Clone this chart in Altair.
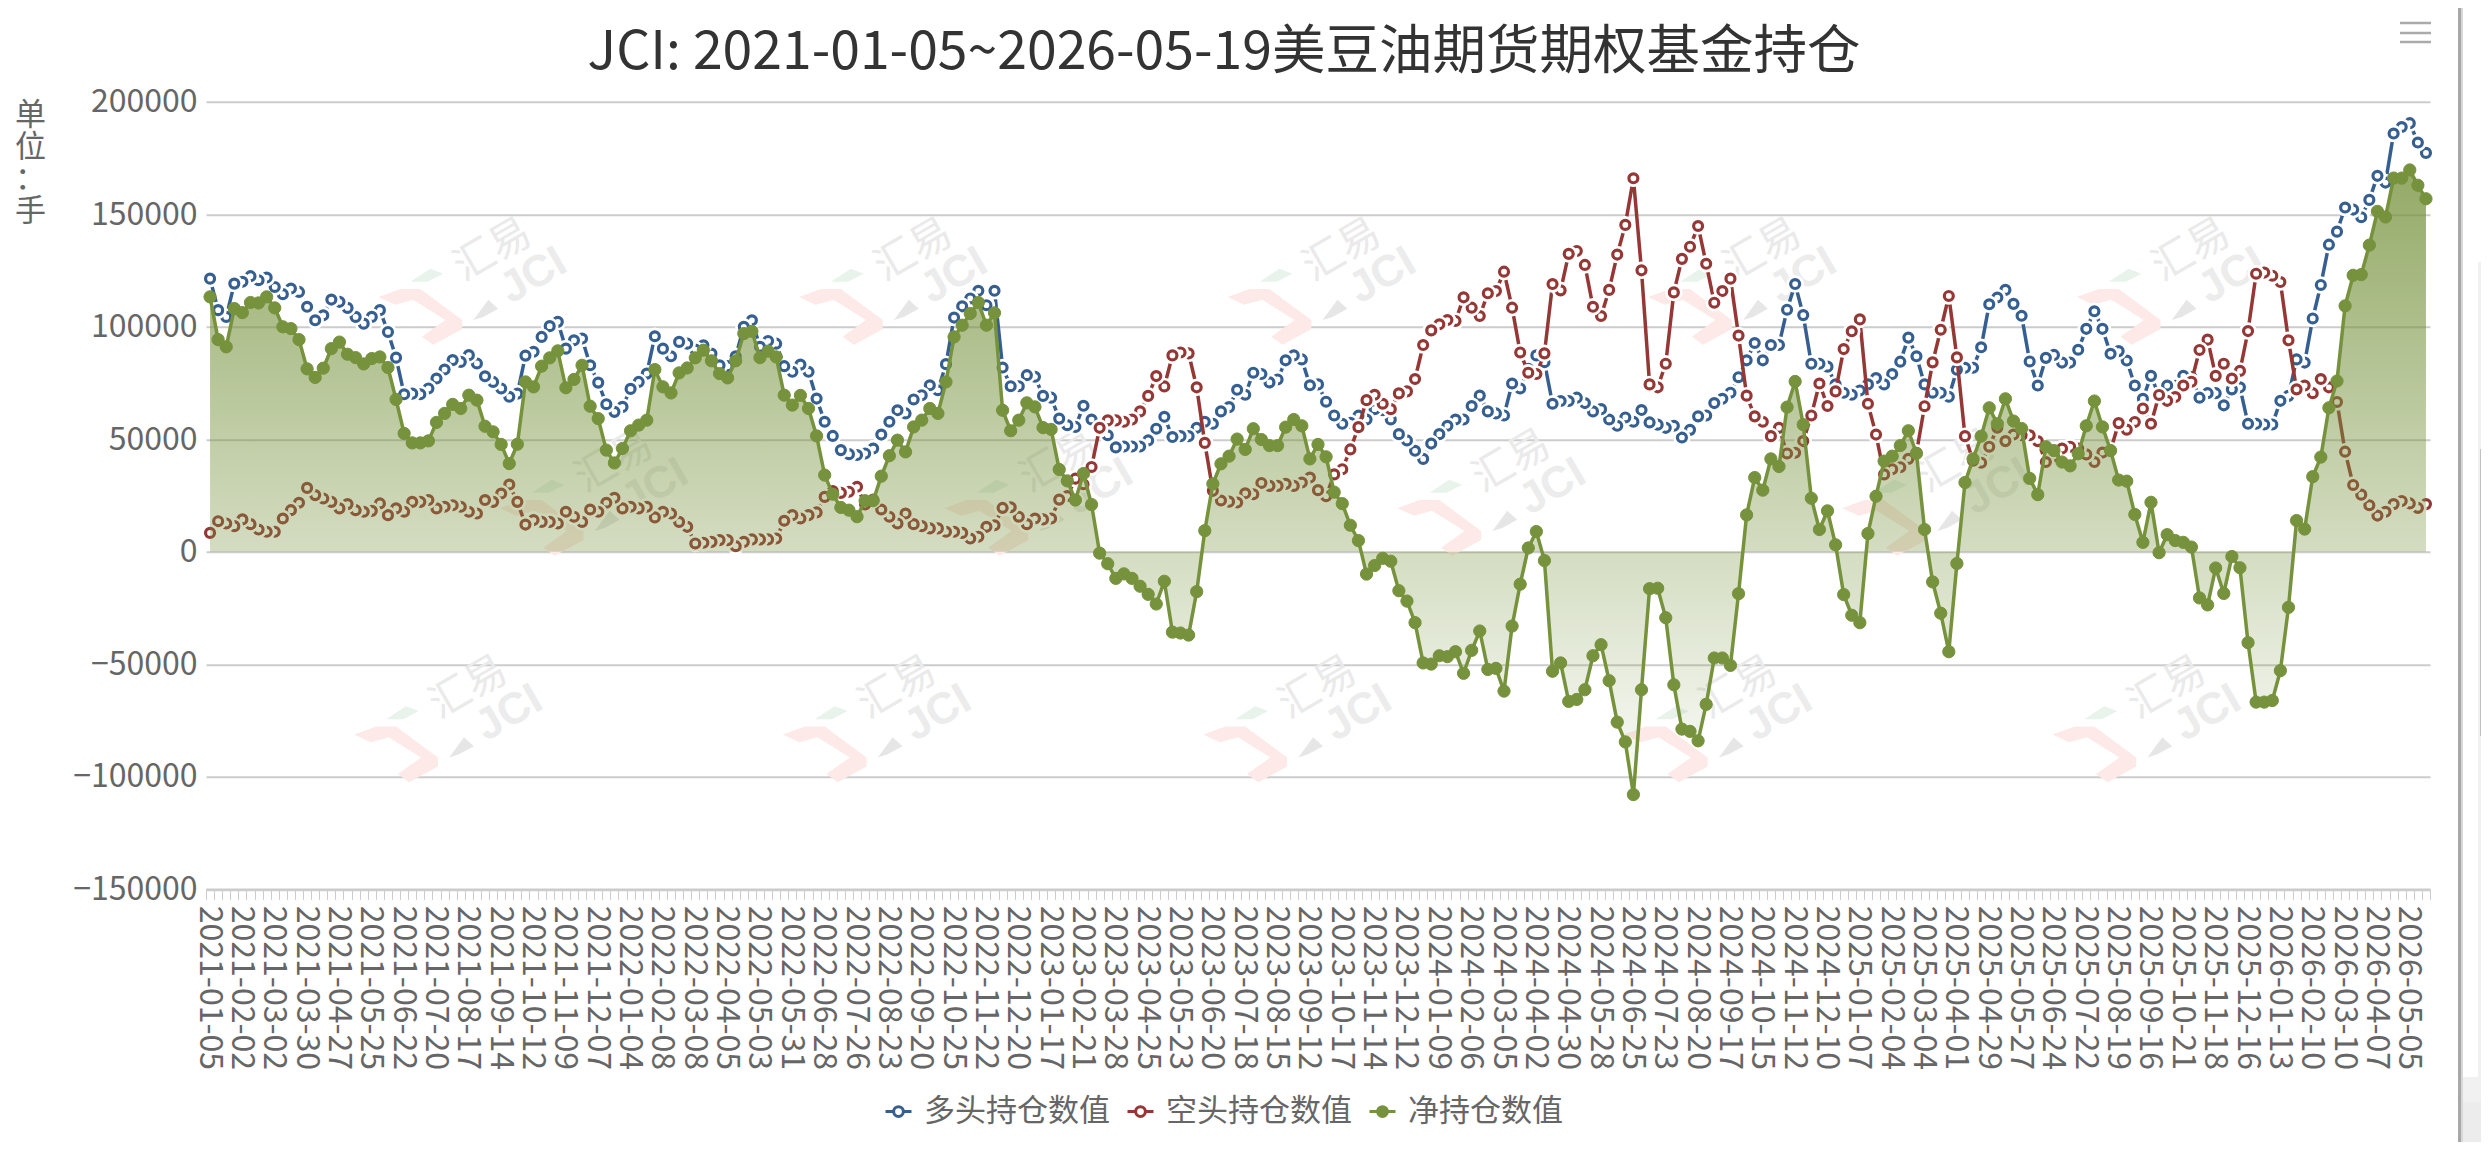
import json
import datetime as dt
import altair as alt
import pandas as pd

TITLE = "JCI: 2021-01-05~2026-05-19美豆油期货期权基金持仓"
LONG_NAME, SHORT_NAME, NET_NAME = "多头持仓数值", "空头持仓数值", "净持仓数值"
UNIT = ["单", "位", "：", "手"]

TICK_LABELS = [
 "2021-01-05","2021-02-02","2021-03-02","2021-03-30","2021-04-27","2021-05-25","2021-06-22","2021-07-20",
 "2021-08-17","2021-09-14","2021-10-12","2021-11-09","2021-12-07","2022-01-04","2022-02-08","2022-03-08",
 "2022-04-05","2022-05-03","2022-05-31","2022-06-28","2022-07-26","2022-08-23","2022-09-20","2022-10-25",
 "2022-11-22","2022-12-20","2023-01-17","2023-02-21","2023-03-28","2023-04-25","2023-05-23","2023-06-20",
 "2023-07-18","2023-08-15","2023-09-12","2023-10-17","2023-11-14","2023-12-12","2024-01-09","2024-02-06",
 "2024-03-05","2024-04-02","2024-04-30","2024-05-28","2024-06-25","2024-07-23","2024-08-20","2024-09-17",
 "2024-10-15","2024-11-12","2024-12-10","2025-01-07","2025-02-04","2025-03-04","2025-04-01","2025-04-29",
 "2025-05-27","2025-06-24","2025-07-22","2025-08-19","2025-09-16","2025-10-21","2025-11-18","2025-12-16",
 "2026-01-13","2026-02-10","2026-03-10","2026-04-07","2026-05-05"]

NET = [
 113300,94300,91100,108100,106300,110800,110600,113300,108400,100000,
 99200,94300,81300,77500,81600,90300,93200,87800,86300,83500,
 85900,86600,81900,67700,52600,48400,48400,49300,57500,61500,
 65500,63700,69600,67400,55800,53300,47700,39200,47800,75500,
 73300,82500,86200,89300,72900,76600,82900,64700,59200,45200,
 39500,45900,53800,56300,58500,
 81000,73300,70600,79500,81700,86200,89600,84900,79200,77300,
 84900,97000,98000,86300,89200,86600,69600,65200,69500,63700,
 51500,34100,25600,19700,18500,15600,22700,22700,33600,42700,
 49600,44400,55500,58500,63700,61500,75500,95500,100700,105900,
 110800,100700,106200,62900,53800,58500,66200,64400,55200,54400,
 36600,31500,23000,34800,21000,
 -600,-5300,-11800,-9800,-11800,-15300,-18900,-23200,-13100,-35700,
 -36100,-37000,-17700,9400,30200,39100,42500,50100,45500,54700,
 49900,47200,47200,55400,58800,56000,41300,47700,42200,26500,
 21400,11800,5000,-9900,-6100,-2900,-4200,-17300,-21900,-31500,
 -49400,-49900,-46200,-46600,-44400,-54000,-43800,-35200,-52300,-51800,
 -61900,-33000,-14400,1700,9000,
 -3900,-53100,-49400,-66500,-65600,-61300,-46200,-41300,-57300,-75700,
 -84500,-107900,-61300,-16400,-16200,-29300,-59100,-78800,-79800,-84000,
 -67800,-47200,-47200,-50500,-18600,16400,33000,27400,41300,37900,
 64300,75700,56500,23800,9900,18200,3100,-19000,-28200,-31500,
 8100,24700,40300,42500,47200,53800,43700,9900,-13400,-27300,
 -44400,-5200,30800,41300,51400,
 64000,56900,68000,58100,54800,32600,25400,46700,45000,39900,
 38200,43600,56000,67000,55500,45000,31900,31400,16600,4200,
 22000,-400,7600,5000,4200,2100,-20500,-23600,-7200,-18500,
 -2100,-7100,-40400,-66800,-66800,-66100,-52800,-24700,13900,10100,
 33400,42100,64000,75900,109300,122900,123200,136300,151300,148800,
 166100,166100,169700,162900,156900]

LONG = [
 121400,107400,104400,119200,120000,122500,120700,121900,117700,114500,
 117000,115500,108900,102900,105100,112100,111100,108400,104400,101400,
 104400,107400,97700,86300,70000,70300,70000,72600,77000,81000,
 85200,84400,87400,83700,78000,75500,72600,68900,70300,87200,
 88900,95500,100300,102200,90300,94000,94800,82900,75200,65600,
 62200,64400,72400,75500,79200,
 95800,90300,86900,93300,92500,89900,91800,88100,82900,82500,
 86900,100000,102900,91100,93700,92500,82500,80000,83200,80000,
 68100,57800,51500,45200,43400,43000,43700,45900,52100,57800,
 62900,61500,67700,69600,74000,71800,83400,104100,109100,112600,
 116000,109600,116000,81900,73600,73600,78500,77800,69300,68500,
 59200,56300,55500,64900,58800,
 54500,51800,46400,46800,46800,46800,49500,54700,60000,51000,
 51400,51400,55100,57800,56900,62400,64300,72000,69800,79600,
 79000,75300,76600,85100,87300,85500,74000,74400,66700,60600,
 56900,57300,60500,58800,63400,62900,58800,52300,49500,44900,
 41300,48100,52300,56000,58800,58800,64800,69400,62400,61500,
 60600,74800,72600,81300,87300,
 84300,65800,67000,67000,68500,66100,62400,63400,58800,56000,
 59700,57800,63000,57500,56500,55100,56000,50800,54200,60200,
 60600,66100,68000,70700,77600,85100,92800,85100,91900,91900,
 107600,119000,105200,83600,83600,82300,74400,70700,69800,71700,
 74400,77200,74400,79000,84500,95200,86900,74400,70700,70700,
 68900,80900,81800,81800,90900,
 110000,113000,116400,110200,104900,84600,73900,86200,87500,84100,
 84100,89800,99100,106900,99100,88000,89200,85000,73900,68000,
 78200,69300,73900,73800,78200,77700,68500,70500,70500,65100,
 72200,73100,56900,56900,56600,56600,67100,69300,85500,84100,
 103700,118600,136500,142300,153000,152100,148700,156400,167100,164100,
 185900,188800,190500,181900,177300]

SHORT = [
 8400,13600,12600,11400,14400,12300,9900,8900,8900,14800,
 18500,21800,28400,25200,23700,22200,19300,21200,18500,17800,
 18200,21500,16300,19300,17800,22200,22200,23000,19300,20000,
 20700,20000,17800,17000,23000,22200,25900,29900,22200,12100,
 14100,13300,13300,12600,17800,15600,13300,18800,17800,21800,
 24000,19300,20000,19300,20000,
 15300,17800,17000,13300,11100,3700,4000,4400,5200,5200,
 2500,4400,5500,5500,5500,5900,13800,16300,14800,16300,
 17500,24400,27000,26200,26700,28900,21000,23200,18800,15600,
 12600,17000,12300,11400,10400,10400,8900,8900,8400,5900,
 6700,11100,11800,19500,19800,15600,12300,14800,14400,14800,
 23200,24800,32500,30000,37700,
 55100,58400,58400,57800,58800,62400,69300,78100,73500,87300,
 88600,88200,73100,48400,27100,22800,22300,21900,26000,25600,
 30600,29300,29300,30200,29300,30800,33000,27400,24700,34400,
 36700,45500,55400,67400,69800,65800,63400,70400,71300,76800,
 91900,98400,101100,103000,102600,113100,108500,104800,114900,115900,
 124500,108500,88600,79600,79000,
 88200,119000,116200,132400,133700,127500,108900,104800,116400,132100,
 145300,166000,125100,74400,73100,83600,115300,130200,135600,144800,
 128000,110700,115900,121400,96100,69400,60200,57800,51400,55100,
 43700,44000,49200,60600,74800,64800,71300,90100,98000,103300,
 65800,52100,34400,36700,37600,41300,44000,64700,84200,98700,
 113700,86400,51400,40500,39600,
 46700,55200,49200,52100,51800,51800,49200,39900,42500,45900,
 46700,45900,43300,39900,44100,45000,57200,54300,57700,63700,
 56900,69700,67100,68800,73900,75600,89700,94300,78200,83600,
 77000,80400,98100,123600,124100,122700,119900,94000,72200,73900,
 70500,76800,73100,66600,44500,29700,25400,20700,16100,17800,
 21200,22600,21500,19500,21200]

# categories: weekly dates following each labelled date (only every 4th one is labelled)
CATS = []
for lab in TICK_LABELS:
    d0 = dt.date.fromisoformat(lab)
    CATS += [(d0 + dt.timedelta(days=7 * k)).isoformat() for k in range(4)]
CATS = CATS[:len(NET)]

# background watermark tiles: (category index, value)
WM_ANCHORS = [(26, 104400), (78, 104400), (131, 104400), (183, 104400), (236, 104400),
              (41, 10600), (96, 10600), (152, 10600), (207, 10600),
              (23, -90000), (76, -90000), (128, -90000), (180, -90000), (233, -90000)]

BLUE, RED, GREEN = "#365F91", "#953735", "#76923C"
GREY, GRID = "#666666", "#cccccc"
FONT = "Noto Sans CJK SC"
W, H = 2224, 787.5
X0, Y0 = 206, 101.8   # plot origin on the page

def pts(name, vals):
    rows = []
    for i in reversed(range(len(vals))):
        rows.append(dict(c=CATS[i], v=vals[i], key="halo", s=205))
        rows.append(dict(c=CATS[i], v=vals[i], key=name, s=80))
    return pd.DataFrame(rows)

def ser(vals):
    return pd.DataFrame(dict(c=CATS, v=vals))

KEYS = [LONG_NAME, SHORT_NAME, NET_NAME, "halo"]
LEG_SYM = "M-1.6,0L-0.75,0M-0.6,0A0.6,0.6 0 1 1 0.6,0A0.6,0.6 0 1 1 -0.6,0ZM0.75,0L1.6,0"
legend = alt.Legend(orient="none", legendX=677, legendY=994, direction="horizontal", columns=3, title=None,
                    values=[LONG_NAME, SHORT_NAME, NET_NAME], symbolType=LEG_SYM, symbolSize=264,
                    symbolStrokeWidth=3, labelFontSize=31, labelFont=FONT, labelColor=GREY, labelLimit=400,
                    labelOffset=10, columnPadding=11, symbolOpacity=1)
stroke = alt.Stroke("key:N", legend=legend,
                    scale=alt.Scale(domain=KEYS, range=[BLUE, RED, GREEN, "#ffffff"]))
fill = alt.Fill("key:N", legend=legend,
                scale=alt.Scale(domain=KEYS, range=["#ffffff", "#ffffff", GREEN, "#ffffff"]))

xaxis = alt.Axis(title=None, tickBand="extent", labelAngle=90, labelFontSize=32, labelFont=FONT, labelColor=GREY,
                 labelOverlap=False, labelBound=False, labelFlush=False, labelPadding=6, labelAlign="left",
                 labelBaseline="middle", labelOffset=-1,
                 labelExpr="indexof(%s, datum.value) >= 0 ? datum.label : ''" % json.dumps(TICK_LABELS),
                 domainColor=GRID, domainWidth=2.5, tickColor=GRID, tickWidth=1, tickSize=10, grid=False)
yaxis = alt.Axis(title=UNIT, titleAngle=0, titleX=30 - X0, titleY=100 - Y0, titleAlign="center", titleBaseline="top",
                 titleFontSize=31, titleFont=FONT, titleFontWeight="normal", titleColor=GREY, titleLineHeight=32,
                 values=list(range(-150000, 200001, 50000)), format="d",
                 labelFontSize=32, labelFont=FONT, labelColor=GREY, labelPadding=9,
                 domain=False, ticks=False, grid=True, gridColor=GRID, gridWidth=2)
X = alt.X("c:N", sort=None, axis=xaxis, scale=alt.Scale(type="band", paddingInner=0, paddingOuter=0, domain=CATS))
Y = alt.Y("v:Q", axis=yaxis, scale=alt.Scale(domain=[-150000, 200000], nice=False, zero=False))

# watermark
wm = pd.DataFrame([dict(c=CATS[i], v=v) for i, v in WM_ANCHORS])
wm_a = pd.DataFrame([dict(c=CATS[i + 9], v=v + 29300) for i, v in WM_ANCHORS])
wm_b = pd.DataFrame([dict(c=CATS[i + 14], v=v + 18200) for i, v in WM_ANCHORS])
CHEVRON = "M-0.93,-0.44L-0.44,-0.62L0,-0.62L0.93,0.07L0.93,0.27L0.29,0.62L0.04,0.44L0.56,0.07L-0.16,-0.38L-0.56,-0.27Z"
LEAF = "M-0.22,-0.78L0.22,-1.07L0.51,-0.96L0.16,-0.78Z"
KITE = "M1.18,0.07L1.51,-0.38L1.73,-0.18L1.4,0Z"
layers = []
for shape, col in ((CHEVRON, "#fde9e7"), (LEAF, "#e8f3ec"), (KITE, "#e6e6e6")):
    layers.append(alt.Chart(wm).mark_point(shape=shape, filled=True, size=8100, color=col, opacity=1, strokeWidth=0)
                  .encode(x=X, y=Y))
layers.append(alt.Chart(wm_a).mark_text(text="汇易", angle=330, fontSize=41, font=FONT, color="#eaeaea").encode(x=X, y=Y))
layers.append(alt.Chart(wm_b).mark_text(text="JCI", angle=330, fontSize=44, font="Liberation Sans", fontWeight="bold",
                                        color="#ececec").encode(x=X, y=Y))

# series
LINE_W = 3.5
layers.append(alt.Chart(ser(LONG)).mark_line(color=BLUE, strokeWidth=LINE_W).encode(x=X, y=Y))
layers.append(alt.Chart(pts(LONG_NAME, LONG)).mark_point(strokeWidth=3.2, opacity=1, filled=False)
              .encode(x=X, y=Y, stroke=stroke, fill=fill, size=alt.Size("s:Q", scale=None)))
layers.append(alt.Chart(ser(SHORT)).mark_line(color=RED, strokeWidth=LINE_W).encode(x=X, y=Y))
layers.append(alt.Chart(pts(SHORT_NAME, SHORT)).mark_point(strokeWidth=3.2, opacity=1, filled=False)
              .encode(x=X, y=Y, stroke=stroke, fill=fill, size=alt.Size("s:Q", scale=None)))
grad = alt.Gradient(gradient="linear", x1=0, x2=0, y1=0, y2=1,
                    stops=[alt.GradientStop(color="rgba(118,146,60,0.78)", offset=0),
                           alt.GradientStop(color="rgba(118,146,60,0.02)", offset=1)])
layers.append(alt.Chart(ser(NET)).mark_area(color=grad, line=False).encode(x=X, y=Y, y2=alt.datum(0)))
layers.append(alt.Chart(ser(NET)).mark_line(color=GREEN, strokeWidth=LINE_W).encode(x=X, y=Y))
net_pts = ser(NET).assign(key=NET_NAME)
layers.append(alt.Chart(net_pts).mark_point(size=150, strokeWidth=1, opacity=1, filled=False)
              .encode(x=X, y=Y, stroke=stroke, fill=fill))

# toolbox icon and the page furniture at the right-hand edge (the page itself ends 8px short of the window)
one = alt.Data(values=[{"a": 1}])
def hbar(x1, x2, yy, thick, col):
    return alt.Chart(one).mark_rule(color=col, strokeWidth=thick).encode(
        x=alt.value(x1 - X0), x2=alt.value(x2 - X0), y=alt.value(yy - Y0))
def vbar(xx, y1, y2, thick, col):
    return alt.Chart(one).mark_rule(color=col, strokeWidth=thick).encode(
        x=alt.value(xx - X0), y=alt.value(y1 - Y0), y2=alt.value(y2 - Y0))
for yy in (23, 33, 42):
    layers.append(hbar(2400, 2431, yy, 2.5, "#aaaaaa"))
layers.append(vbar(2459.5, 8, 1142, 3, "#a8a8a8"))
layers.append(vbar(2462, 8, 1142, 2, "#d8d8d8"))
layers.append(vbar(2479.5, 262, 1077, 3, "#f1f1f1"))
layers.append(vbar(2480.5, 449, 736, 1, "#c1c1c1"))
layers.append(hbar(2463, 2481, 1089.5, 25, "#f1f1f1"))
layers.append(hbar(2463, 2481, 1122, 40, "#ececec"))

chart = alt.layer(*layers).properties(
    width=W, height=H,
    title=alt.TitleParams(TITLE, fontSize=53.5, font=FONT, fontWeight="normal", color="#333333",
                          anchor="middle", dx=-94, offset=26, dy=100),
    padding={"left": X0 - 8, "top": Y0 - 8, "right": 2489 - 8 - X0 - W, "bottom": 1134 - (Y0 - 8) - H},
    autosize=alt.AutoSizeParams(type="none"),
    background="#ffffff",
).configure_view(stroke=None)

chart.save("out.html", embed_options={"renderer": "svg", "actions": False})
